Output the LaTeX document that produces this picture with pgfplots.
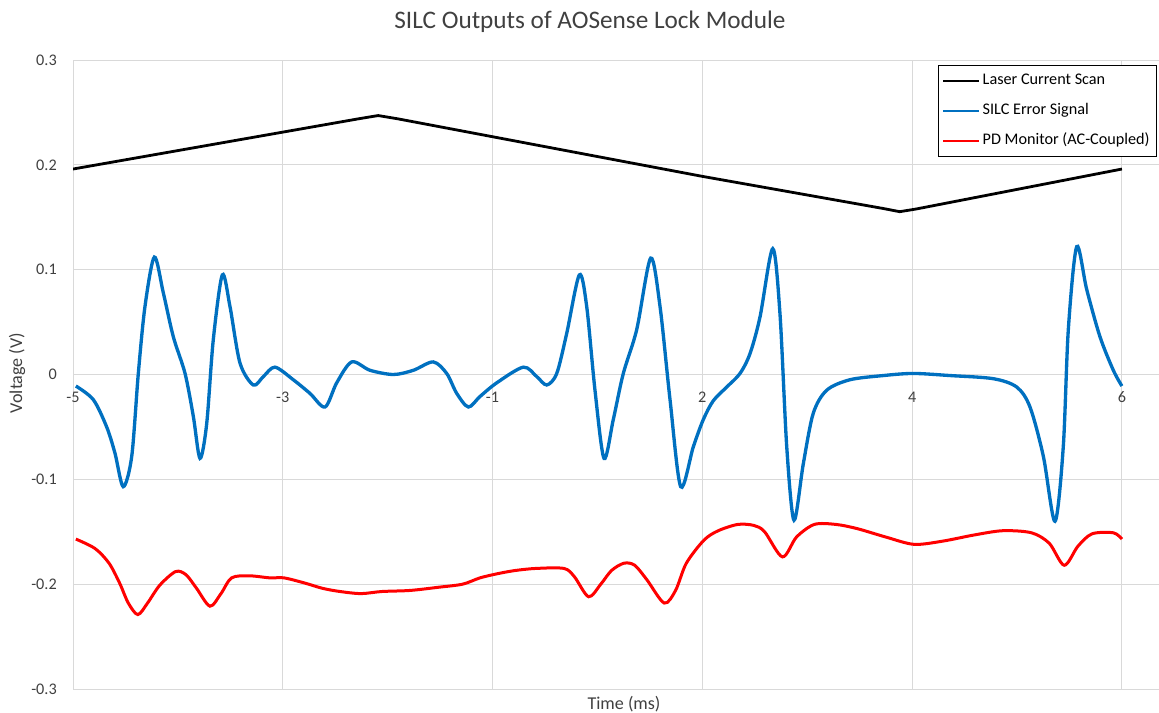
\documentclass[border=0pt]{standalone}
\usepackage{fontspec}
\setmainfont{Carlito}
\usepackage{pgfplots}
\pgfplotsset{compat=1.18}
\definecolor{excelblue}{RGB}{0,112,192}
\definecolor{gridgray}{RGB}{217,217,217}
\definecolor{txt}{RGB}{64,64,64}
\begin{document}
\begin{tikzpicture}
\useasboundingbox (0,0) rectangle (869.25bp,534.75bp);
\begin{axis}[
  at={(54.75bp,18bp)}, anchor=south west,
  scale only axis, width=814.5bp, height=471.75bp,
  xmin=-5, xmax=6.389, ymin=-0.3, ymax=0.3,
  xtick={-5,-2.8,-0.6,1.6,3.8,6},
  xticklabels={-5,-3,-1,2,4,6},
  ytick={-0.3,-0.2,-0.1,0,0.1,0.2,0.3},
  yticklabels={-0.3,-0.2,-0.1,0,0.1,0.2,0.3},
  grid=major,
  major grid style={draw=gridgray, line width=0.75bp},
  axis line style={draw=none},
  major tick length=0pt,
  tick style={draw=none},
  tick label style={font=\fontsize{12.2}{14}\selectfont, text=txt},
  xticklabel style={anchor=center, inner sep=0pt, yshift=219bp},
  yticklabel style={anchor=east, inner sep=0pt, xshift=-12bp},
  legend style={at={(0.998,0.992)}, anchor=north east, draw=black, line width=0.75bp,
    font=\fontsize{12.2}{14}\selectfont, row sep=7bp, inner xsep=3bp, inner ysep=4bp,
    cells={anchor=west}, nodes={inner sep=2bp, text height=8.5bp, text depth=3bp}},
  legend image code/.code={\draw[#1, line width=1.5bp] (0bp,0bp) -- (27bp,0bp);},
]
\addplot[black, line width=2.1bp, line join=round] coordinates {
(-5,0.196) (-2.0,0.2440) (-1.8,0.2470) (-1.6,0.2440) (1.6,0.189)
(3.5,0.1583) (3.67,0.1553) (3.85,0.1580) (6,0.196)};
\addplot[excelblue, line width=2.5bp, smooth] coordinates {
(-4.97,-0.011) (-4.787,-0.024) (-4.647,-0.050) (-4.560,-0.075) (-4.473,-0.107)
(-4.384,-0.078) (-4.315,0.001) (-4.245,0.065) (-4.147,0.112) (-4.053,0.078)
(-3.948,0.036) (-3.825,0.001) (-3.738,-0.040) (-3.668,-0.080) (-3.598,-0.047)
(-3.529,0.033) (-3.434,0.095) (-3.354,0.065) (-3.249,0.011) (-3.109,-0.010)
(-3.004,-0.002) (-2.882,0.007) (-2.690,-0.005) (-2.515,-0.018) (-2.357,-0.031)
(-2.235,-0.008) (-2.077,0.012) (-1.885,0.004) (-1.640,0.000) (-1.431,0.004)
(-1.222,0.012) (-1.081,0.001) (-0.976,-0.018) (-0.854,-0.031) (-0.732,-0.021)
(-0.557,-0.008) (-0.278,0.007) (-0.137,-0.002) (-0.032,-0.010) (0.073,0.001)
(0.177,0.039) (0.310,0.095) (0.387,0.065) (0.474,-0.015) (0.569,-0.080)
(0.666,-0.043) (0.771,0.001) (0.912,0.043) (1.058,0.111) (1.156,0.065)
(1.261,-0.024) (1.373,-0.107) (1.505,-0.069) (1.610,-0.043) (1.715,-0.025)
(1.855,-0.012) (1.995,0.001) (2.100,0.020) (2.205,0.055) (2.338,0.120)
(2.414,0.058) (2.485,-0.069) (2.561,-0.139) (2.659,-0.085) (2.763,-0.037)
(2.904,-0.015) (3.148,-0.005) (3.498,-0.001) (3.812,0.001) (4.197,-0.001)
(4.651,-0.004) (4.897,-0.012) (5.036,-0.031) (5.176,-0.078) (5.298,-0.140)
(5.385,-0.069) (5.438,0.043) (5.526,0.122) (5.631,0.081) (5.770,0.036)
(5.910,0.004) (6.000,-0.011)};
\addplot[red, line width=2.25bp, smooth] coordinates {
(-4.97,-0.157) (-4.769,-0.166) (-4.622,-0.180) (-4.511,-0.199) (-4.420,-0.218)
(-4.320,-0.229) (-4.218,-0.218) (-4.090,-0.201) (-3.924,-0.188) (-3.815,-0.191)
(-3.704,-0.204) (-3.564,-0.221) (-3.448,-0.209) (-3.337,-0.194) (-3.154,-0.192)
(-2.934,-0.194) (-2.787,-0.194) (-2.567,-0.199) (-2.382,-0.204) (-2.200,-0.207)
(-1.980,-0.209) (-1.760,-0.207) (-1.466,-0.206) (-1.172,-0.203) (-0.914,-0.200)
(-0.732,-0.194) (-0.547,-0.190) (-0.365,-0.187) (-0.145,-0.185) (0.149,-0.185)
(0.259,-0.193) (0.407,-0.212) (0.535,-0.200) (0.647,-0.187) (0.778,-0.180)
(0.891,-0.182) (1.020,-0.196) (1.200,-0.218) (1.319,-0.206) (1.432,-0.180)
(1.617,-0.158) (1.767,-0.149) (1.973,-0.143) (2.141,-0.144) (2.253,-0.150)
(2.440,-0.174) (2.588,-0.155) (2.775,-0.143) (2.999,-0.143) (3.223,-0.147)
(3.522,-0.155) (3.819,-0.162) (4.118,-0.159) (4.455,-0.153) (4.753,-0.149)
(5.052,-0.151) (5.238,-0.161) (5.395,-0.182) (5.537,-0.164) (5.686,-0.152)
(5.911,-0.151) (6.000,-0.157)};
\legend{Laser Current Scan, SILC Error Signal, PD Monitor (AC-Coupled)}
\end{axis}
\node[font=\fontsize{19}{22}\selectfont, text=txt] at (442.5bp,518.25bp) {SILC Outputs of AOSense Lock Module};
\node[font=\fontsize{13.6}{16}\selectfont, text=txt] at (468bp,6.75bp) {Time (ms)};
\node[rotate=90, font=\fontsize{13.6}{16}\selectfont, text=txt] at (12.75bp,255bp) {Voltage (V)};
\end{tikzpicture}
\end{document}
